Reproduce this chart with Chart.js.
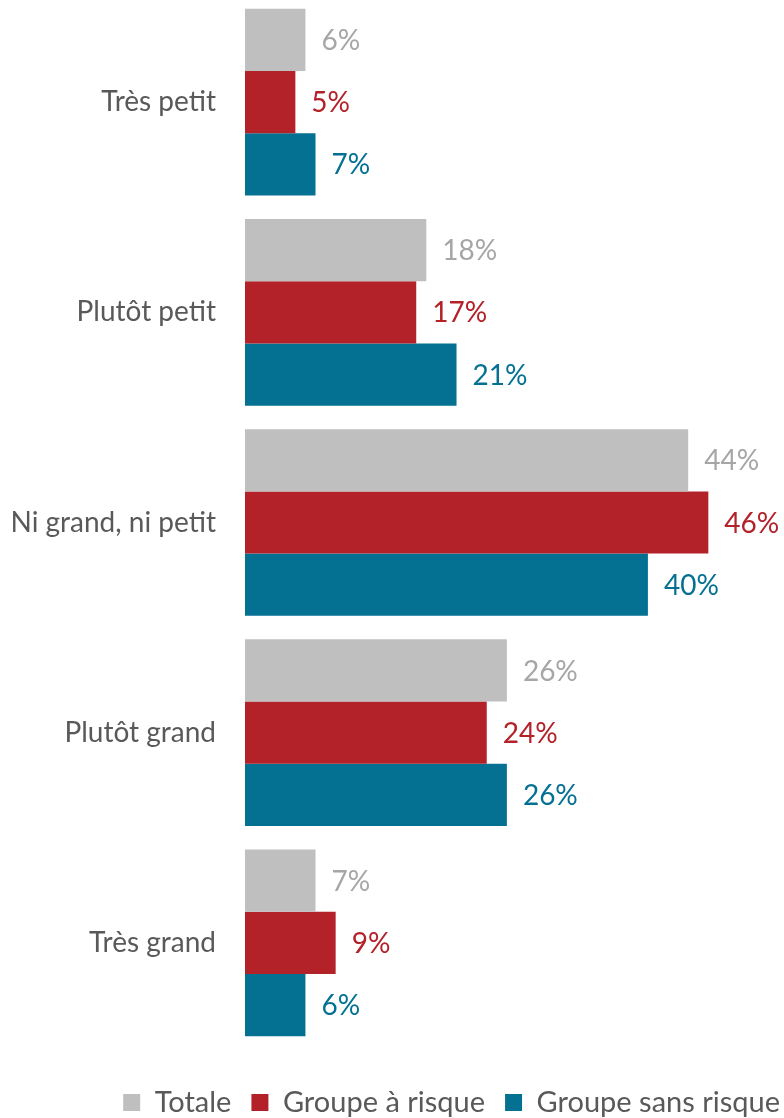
<!DOCTYPE html>
<html lang="fr">
<head>
<meta charset="utf-8">
<title>Taille perçue</title>
<script src="https://cdn.jsdelivr.net/npm/chart.js@4.4.1/dist/chart.umd.min.js"></script>
<style>
  html, body { margin: 0; padding: 0; background: #fff; overflow: hidden; }
  /* a little wider than the page so the end-aligned legend sits near the edge */
  #wrap { position: absolute; left: 0; top: -3px; width: 800px; height: 1130px; }
</style>
</head>
<body>
<div id="wrap"><canvas id="tailleChart"></canvas></div>
<script>
const categories = ["Très petit", "Plutôt petit", "Ni grand, ni petit", "Plutôt grand", "Très grand"];
const seriesNames = ["Totale", "Groupe à risque", "Groupe sans risque"];
const totale = [6, 18, 44, 26, 7];
const groupeRisque = [5, 17, 46, 24, 9];
const groupeSansRisque = [7, 21, 40, 26, 6];

const barColors = ["#BFBFBF", "#B32129", "#047193"];
const labelColors = ["#A6A6A6", "#B32129", "#047193"];
const FONT = "Lato, 'Open Sans', sans-serif";

// percentage written just right of each bar
const valueLabels = {
  id: "valueLabels",
  afterDatasetsDraw(chart) {
    const ctx = chart.ctx;
    ctx.save();
    ctx.font = "28px " + FONT;
    ctx.textBaseline = "middle";
    ctx.textAlign = "left";
    chart.data.datasets.forEach((ds, i) => {
      const meta = chart.getDatasetMeta(i);
      ctx.fillStyle = labelColors[i];
      meta.data.forEach((bar, j) => {
        ctx.fillText(ds.data[j] + "%", bar.x + 16, bar.y + 1);
      });
    });
    ctx.restore();
  }
};

const ctx = document.getElementById("tailleChart").getContext("2d");
const tailleChart = new Chart(ctx, {
  type: "bar",
  data: {
    labels: categories,
    datasets: [
      { label: seriesNames[0], data: totale, backgroundColor: barColors[0] },
      { label: seriesNames[1], data: groupeRisque, backgroundColor: barColors[1] },
      { label: seriesNames[2], data: groupeSansRisque, backgroundColor: barColors[2] }
    ]
  },
  options: {
    indexAxis: "y",
    responsive: true,
    maintainAspectRatio: false,
    animation: false,
    layout: { padding: 0 },
    datasets: {
      bar: { categoryPercentage: 0.888, barPercentage: 1.0, borderWidth: 0 }
    },
    scales: {
      x: {
        min: 0,
        max: 55.1,
        grid: { display: false, drawTicks: false },
        border: { display: false },
        ticks: { display: false },
        afterFit(scale) { scale.height = 20; }
      },
      y: {
        grid: { display: false, drawTicks: false },
        border: { display: false },
        ticks: {
          padding: 29,
          color: "#595959",
          font: { family: FONT, size: 28 }
        },
        afterFit(scale) {
          // fixed label column; tick padding should not push the plot down
          scale.width = 245;
          scale.paddingTop = 0;
          scale.paddingBottom = 0;
        }
      }
    },
    plugins: {
      tooltip: { enabled: false },
      legend: {
        position: "bottom",
        align: "end",
        labels: {
          boxWidth: 17,
          boxHeight: 17,
          padding: 20,
          color: "#595959",
          font: { family: FONT, size: 29 }
        }
      }
    }
  },
  plugins: [valueLabels]
});
</script>
</body>
</html>
